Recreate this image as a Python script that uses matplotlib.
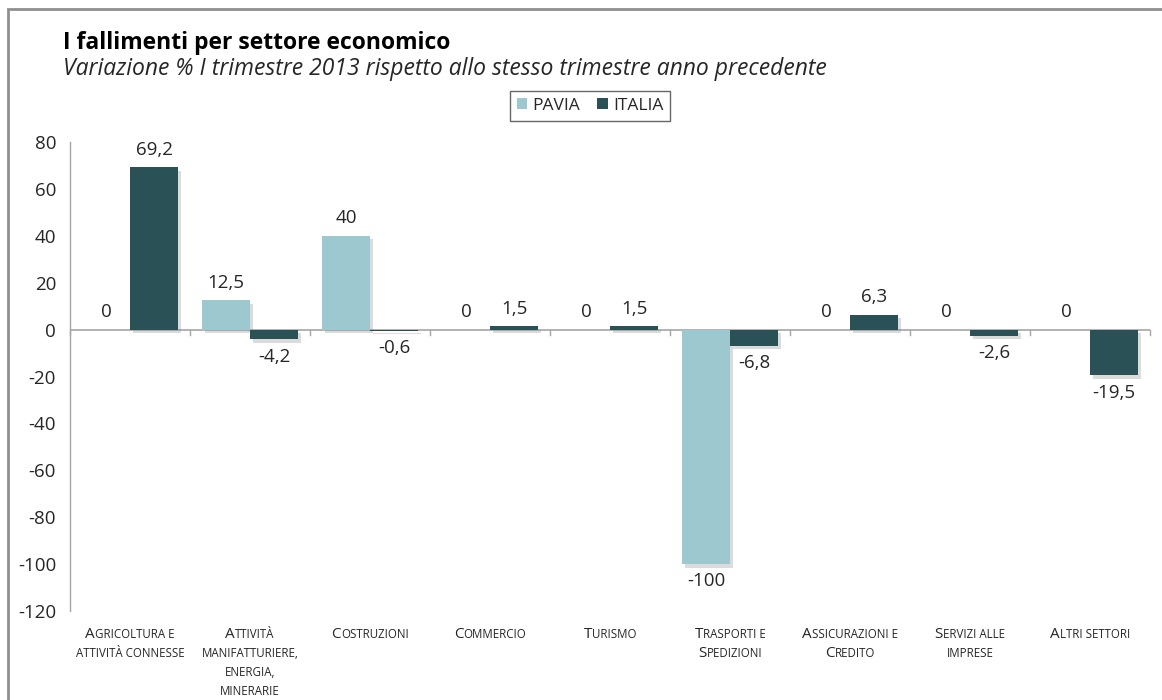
import matplotlib
matplotlib.use("Agg")
import matplotlib.pyplot as plt
import matplotlib.patheffects as pe
from matplotlib.patches import Rectangle, Patch
from matplotlib.textpath import TextToPath
from matplotlib.font_manager import FontProperties
import numpy as np

FONT = "Open Sans"
plt.rcParams['font.family'] = [FONT, 'DejaVu Sans']

categories = [
    "Agricoltura e\nattività connesse",
    "Attività\nmanifatturiere,\nenergia,\nminerarie",
    "Costruzioni",
    "Commercio",
    "Turismo",
    "Trasporti e\nSpedizioni",
    "Assicurazioni e\nCredito",
    "Servizi alle\nimprese",
    "Altri settori",
]
pavia = [0, 12.5, 40, 0, 0, -100, 0, 0, 0]
italia = [69.2, -4.2, -0.6, 1.5, 1.5, -6.8, 6.3, -2.6, -19.5]
series_names = ["PAVIA", "ITALIA"]
yticks = [-120, -100, -80, -60, -40, -20, 0, 20, 40, 60, 80]

C_PAVIA = "#9ec8cf"
C_ITALIA = "#2a5256"
GRAY = "#a6a6a6"
TXT = "#262626"

W, H = 1162, 700
fig = plt.figure(figsize=(W / 100, H / 100), dpi=100)
fig.patch.set_facecolor("white")

# outer border
fig.add_artist(Rectangle((8 / W, -0.1), 1.2, 1 - 9 / H + 0.1, transform=fig.transFigure,
                         fill=False, edgecolor="#8f8f8f", linewidth=2))

ax_l, ax_r, ax_t, ax_b = 70, 1150, 142, 611
ax = fig.add_axes([ax_l / W, 1 - ax_b / H, (ax_r - ax_l) / W, (ax_b - ax_t) / H])

x = np.arange(len(categories))
bw = 0.4
shadow = [pe.SimplePatchShadow(offset=(2.5, -2.5), shadow_rgbFace="#8a8a8a", alpha=0.3), pe.Normal()]
b1 = ax.bar(x - bw / 2, pavia, bw, color=C_PAVIA, zorder=3)
b2 = ax.bar(x + bw / 2, italia, bw, color=C_ITALIA, zorder=3)
for b in list(b1) + list(b2):
    b.set_path_effects(shadow)

ax.set_xlim(-0.5, len(categories) - 0.5)
ax.set_ylim(-120, 80)
ax.set_yticks(yticks)
ax.set_yticklabels([str(v) for v in yticks], fontsize=13.5, color=TXT)
ax.tick_params(axis="y", length=0, pad=10)
ax.set_xticks([])
for s in ["top", "right", "bottom"]:
    ax.spines[s].set_visible(False)
ax.spines["left"].set_color(GRAY)
ax.spines["left"].set_linewidth(1)

# zero line with tick marks at category boundaries
ax.axhline(0, color=GRAY, linewidth=1.2, zorder=2)
for xb in np.arange(-0.5, len(categories), 1.0):
    ax.plot([xb, xb], [0, -2.2], color=GRAY, linewidth=1, zorder=2, clip_on=False)


def fmt(v):
    s = ("%.1f" % v).rstrip("0").rstrip(".")
    return s.replace(".", ",")


for xs, vals in ((x - bw / 2, pavia), (x + bw / 2, italia)):
    for xi, v in zip(xs, vals):
        if v >= 0:
            ax.annotate(fmt(v), (xi, v), xytext=(0, 6), textcoords="offset points",
                        ha="center", va="bottom", fontsize=13.5, color=TXT)
        else:
            ax.annotate(fmt(v), (xi, v), xytext=(0, -6), textcoords="offset points",
                        ha="center", va="top", fontsize=13.5, color=TXT)

# small-caps category labels
BIG, SMALL = 11, 8.3
ttp = TextToPath()


def text_w(s, size):
    fp = FontProperties(family=FONT, size=size)
    w, h, d = ttp.get_text_width_height_descent(s, fp, ismath=False)
    return w


def runs(line):
    out = []
    for ch in line:
        big = ch.isupper()
        c = ch.upper()
        if out and out[-1][1] == big:
            out[-1][0] += c
        else:
            out.append([c, big])
    return out


px = 0.72
for xi, label in zip(x, categories):
    for li, line in enumerate(label.split("\n")):
        rs = runs(line)
        widths = [text_w(t, BIG if b else SMALL) for t, b in rs]
        total = sum(widths)
        off = -total / 2
        yoff = -(27 + 19 * li) * px
        for (t, b), w in zip(rs, widths):
            ax.annotate(t, (xi, 0), xycoords=("data", "axes fraction"),
                        xytext=(off, yoff), textcoords="offset points",
                        ha="left", va="baseline", fontsize=BIG if b else SMALL,
                        color=TXT, annotation_clip=False)
            off += w

# titles
fig.text(63 / W, 1 - 49 / H, "I fallimenti per settore economico", fontsize=16.5,
         fontweight="bold", color="black", ha="left", va="baseline")
fig.text(63 / W, 1 - 75 / H, "Variazione % I trimestre 2013 rispetto allo stesso trimestre anno precedente",
         fontsize=16.5, style="italic", color=TXT, ha="left", va="baseline")

handles = [Patch(facecolor=C_PAVIA), Patch(facecolor=C_ITALIA)]
leg = fig.legend(handles, series_names, loc="center", bbox_to_anchor=(590 / W, 1 - 106 / H),
                 ncol=2, frameon=True, fancybox=False, fontsize=12.5, handlelength=0.6,
                 handleheight=0.6, handletextpad=0.3, columnspacing=1.0, borderpad=0.4)
leg.get_frame().set_edgecolor("#404040")
leg.get_frame().set_linewidth(1)
for t in leg.get_texts():
    t.set_color(TXT)

fig.savefig("out.png", dpi=100, facecolor="white")
